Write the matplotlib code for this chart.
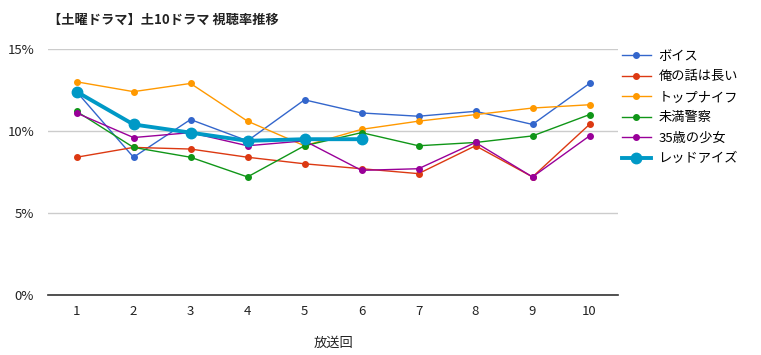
import matplotlib.pyplot as plt
from matplotlib.ticker import FuncFormatter

plt.rcParams['font.family'] = ['Noto Sans CJK JP', 'DejaVu Sans']

episodes = [1, 2, 3, 4, 5, 6, 7, 8, 9, 10]
voice = [12.4, 8.4, 10.7, 9.4, 11.9, 11.1, 10.9, 11.2, 10.4, 12.9]
ore_no_hanashi = [8.4, 9.0, 8.9, 8.4, 8.0, 7.7, 7.4, 9.1, 7.2, 10.4]
top_knife = [13.0, 12.4, 12.9, 10.6, 9.1, 10.1, 10.6, 11.0, 11.4, 11.6]
miman_keisatsu = [11.2, 9.0, 8.4, 7.2, 9.1, 9.9, 9.1, 9.3, 9.7, 11.0]
shojo35 = [11.1, 9.6, 9.9, 9.1, 9.4, 7.6, 7.7, 9.3, 7.2, 9.7]
red_eyes = [12.4, 10.4, 9.9, 9.4, 9.5, 9.5]

series = [
    ('ボイス', voice, '#3366cc'),
    ('俺の話は長い', ore_no_hanashi, '#dc3912'),
    ('トップナイフ', top_knife, '#ff9900'),
    ('未満警察', miman_keisatsu, '#109618'),
    ('35歳の少女', shojo35, '#990099'),
]

fig = plt.figure(figsize=(7.61, 3.55), dpi=100)
ax = fig.add_axes([48 / 761, 60 / 355, 570 / 761, 246 / 355])

for name, vals, col in series:
    ax.plot(episodes[:len(vals)], vals, color=col, lw=1, marker='o', ms=4, label=name, zorder=3)
ax.plot(episodes[:len(red_eyes)], red_eyes, color='#0099c6', lw=2.8, marker='o', ms=7.5,
        label='レッドアイズ', zorder=4)

ax.set_xlim(0.5, 10.5)
ax.set_ylim(0, 15)
ax.set_yticks([0, 5, 10, 15])
ax.yaxis.set_major_formatter(FuncFormatter(lambda v, p: f'{v:.0f}%'))
ax.set_xticks(episodes)
ax.grid(axis='y', color='#cccccc', lw=1)
ax.set_axisbelow(True)
for s in ['top', 'right', 'left']:
    ax.spines[s].set_visible(False)
ax.spines['bottom'].set_color('#333333')
ax.spines['bottom'].set_linewidth(1.2)
ax.tick_params(length=0, labelsize=9.5, colors='#222222')
ax.tick_params(axis='x', pad=7)
ax.tick_params(axis='y', pad=10)
ax.set_xlabel('放送回', fontsize=9.5, color='#222222', labelpad=14)

fig.text(48 / 761, 1 - 20 / 355, '【土曜ドラマ】土10ドラマ 視聴率推移', fontsize=9.5,
         fontweight='bold', va='center', ha='left', color='#222222')

ax.legend(loc='upper left', bbox_to_anchor=(0.99, 1.035), frameon=False, fontsize=9.5,
          handlelength=2.2, labelspacing=0.57, handletextpad=0.6, borderaxespad=0.3)

fig.savefig('out.png', dpi=100)
